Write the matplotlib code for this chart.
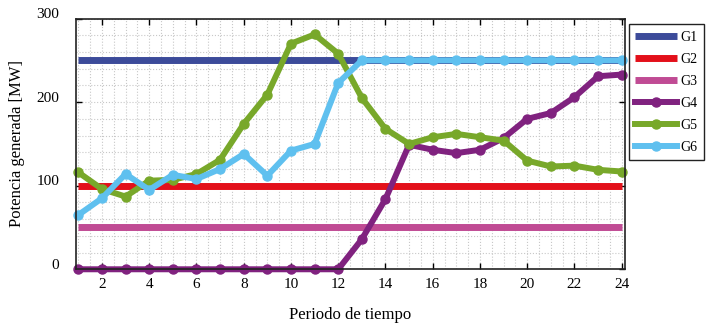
import matplotlib
matplotlib.use('Agg')
from matplotlib import pyplot as plt
from matplotlib.ticker import MultipleLocator
import matplotlib.transforms as mtransforms

plt.rcParams['font.family'] = ['Liberation Serif', 'DejaVu Serif']

periods = list(range(1, 25))
g1 = [250] * 24
g2 = [100] * 24
g3 = [50] * 24
g4 = [0, 0, 0, 0, 0, 0, 0, 0, 0, 0, 0, 0,
      36, 84, 149, 143, 139, 143, 157, 180, 187, 206, 231, 233]
g5 = [116, 96, 87, 106, 107, 114, 131, 174, 209, 270, 281, 258,
      205, 168, 150, 158, 162, 158, 154, 130, 123, 124, 119, 117]
g6 = [65, 85, 114, 95, 113, 108, 120, 138, 112, 142, 150, 223,
      250, 250, 250, 250, 250, 250, 250, 250, 250, 250, 250, 250]

fig = plt.figure(figsize=(7.1, 3.26), dpi=100)
ax = fig.add_axes([0.107, 0.174, 0.773, 0.769])

# flat lines first, then the lines with markers on top
ax.plot(periods, g1, '-', color='#3c4b9a', lw=5, label='G1', solid_capstyle='butt')
ax.plot(periods, g2, '-', color='#e3101a', lw=5, label='G2', solid_capstyle='butt')
ax.plot(periods, g3, '-', color='#c04b94', lw=5, label='G3', solid_capstyle='butt')
ax.plot(periods, g4, 'o-', color='#80227f', lw=4.3, ms=6.5, label='G4', clip_on=False)
ax.plot(periods, g5, 'o-', color='#78a82a', lw=4.3, ms=6.5, label='G5', clip_on=False)
ax.plot(periods, g6, 'o-', color='#5fc0ef', lw=4.3, ms=6.5, label='G6', clip_on=False)

ax.set_xlim(0.9, 24.13)
ax.set_ylim(0, 300)
ax.xaxis.set_major_locator(MultipleLocator(2))
ax.xaxis.set_minor_locator(MultipleLocator(0.5))
ax.yaxis.set_major_locator(MultipleLocator(100))
ax.yaxis.set_minor_locator(MultipleLocator(20))
ax.grid(which='both', linestyle=':', color='#c8c8c8', lw=0.8)
ax.set_axisbelow(True)
ax.tick_params(which='major', direction='in', top=True, right=True, length=4,
               width=1, labelsize=11, pad=6)
ax.tick_params(which='minor', length=0)
ax.tick_params(axis='y', pad=12)
for s in ax.spines.values():
    s.set_linewidth(1.2)
    s.set_color('#222222')

# y labels sit a bit above their ticks
offset = mtransforms.ScaledTranslation(0, 4 / 72, fig.dpi_scale_trans)
for lab in ax.get_yticklabels():
    lab.set_transform(lab.get_transform() + offset)

ax.set_xlabel('Periodo de tiempo', fontsize=12, labelpad=12)
ax.set_ylabel('Potencia generada [MW]', fontsize=12, labelpad=8)

leg = ax.legend(loc='upper left', bbox_to_anchor=(0.8855, 0.9255),
                bbox_transform=fig.transFigure, borderaxespad=0, fontsize=10,
                handlelength=3, numpoints=1, fancybox=False, labelspacing=0.65,
                handletextpad=0.3, borderpad=0.45, framealpha=1)
leg.get_frame().set_edgecolor('#222222')
leg.get_frame().set_linewidth(1.0)

fig.savefig('out.png', dpi=100)
